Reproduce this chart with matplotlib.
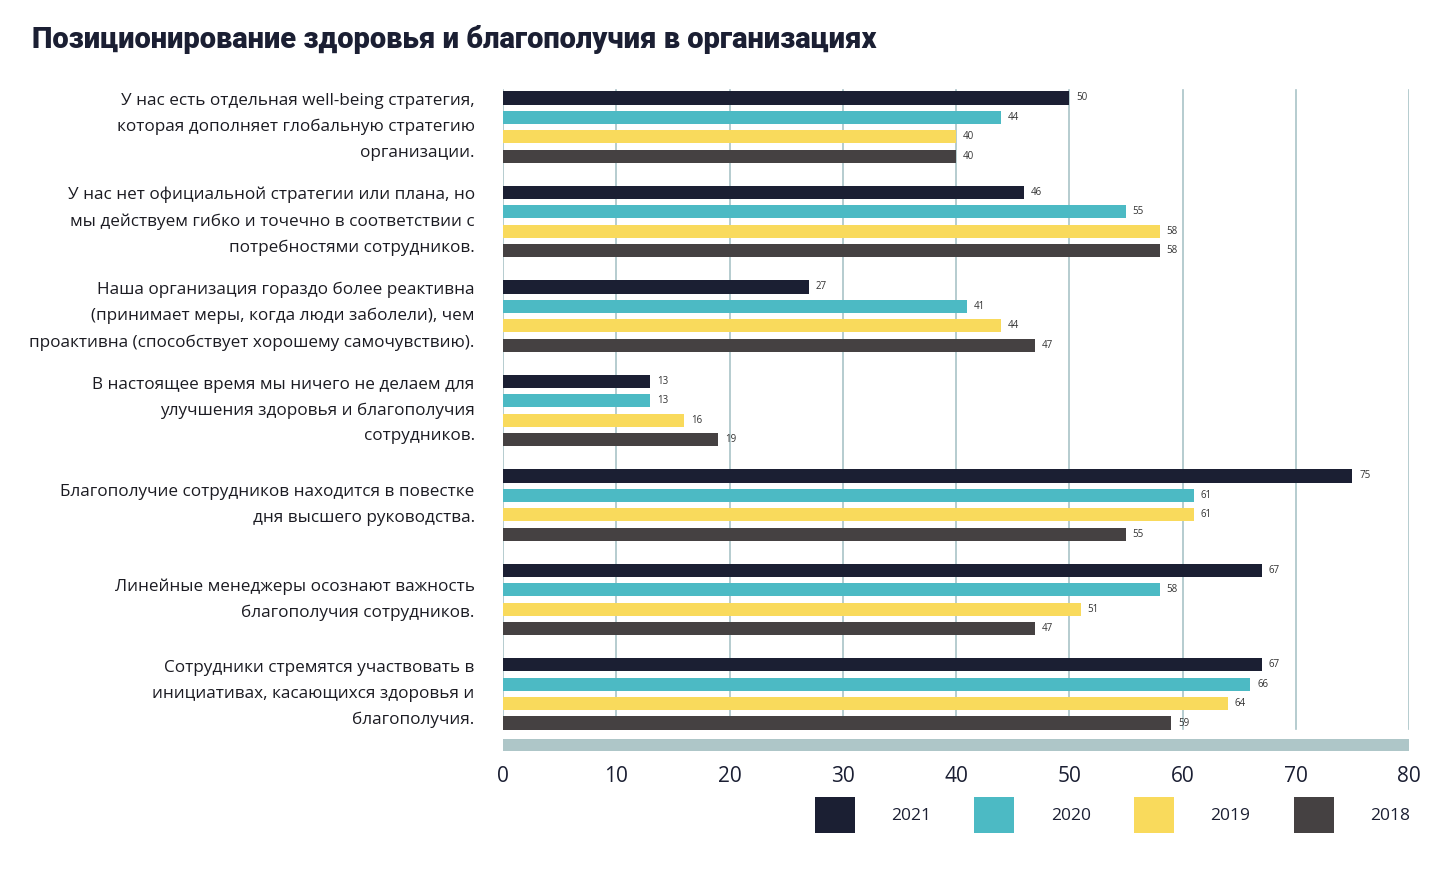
import numpy as np
import matplotlib
matplotlib.use("Agg")
import matplotlib.pyplot as plt
from matplotlib.patches import Patch

title = "Позиционирование здоровья и благополучия в организациях"
categories = [
    "У нас есть отдельная well-being стратегия,\nкоторая дополняет глобальную стратегию\nорганизации.",
    "У нас нет официальной стратегии или плана, но\nмы действуем гибко и точечно в соответствии с\nпотребностями сотрудников.",
    "Наша организация гораздо более реактивна\n(принимает меры, когда люди заболели), чем\nпроактивна (способствует хорошему самочувствию).",
    "В настоящее время мы ничего не делаем для\nулучшения здоровья и благополучия\nсотрудников.",
    "Благополучие сотрудников находится в повестке\nдня высшего руководства.",
    "Линейные менеджеры осознают важность\nблагополучия сотрудников.",
    "Сотрудники стремятся участвовать в\nинициативах, касающихся здоровья и\nблагополучия.",
]
years = ["2021", "2020", "2019", "2018"]
v2021 = [50, 46, 27, 13, 75, 67, 67]
v2020 = [44, 55, 41, 13, 61, 58, 66]
v2019 = [40, 58, 44, 16, 61, 51, 64]
v2018 = [40, 58, 47, 19, 55, 47, 59]
series = [v2021, v2020, v2019, v2018]
colors = ["#1b1f33", "#4cbac4", "#f9da5c", "#454142"]
xticks = [0, 10, 20, 30, 40, 50, 60, 70, 80]

plt.rcParams['font.family'] = ['Open Sans', 'DejaVu Sans']

W, H = 1441, 873
fig = plt.figure(figsize=(W / 100, H / 100), dpi=100)
x0, x1 = 503, 1409
ytop, ybot = 88, 753
ax = fig.add_axes([x0 / W, 1 - ybot / H, (x1 - x0) / W, (ybot - ytop) / H])

group_step = 4.87
n = len(categories)
unit = 19.4
ylim_top = (ytop - 98) / unit
ylim_bot = (ybot - 98) / unit
ax.set_ylim(ylim_bot, ylim_top)
ax.set_xlim(0, 80)

grid_end = (729 - 98) / unit
for t in xticks:
    ax.plot([t, t], [ylim_top + 0.1, grid_end], color="#a9c4c7", lw=1.2, zorder=1)

for j, (vals, c) in enumerate(zip(series, colors)):
    ys = np.arange(n) * group_step + j
    ax.barh(ys, vals, height=0.68, color=c, zorder=2)
    for y, v in zip(ys, vals):
        ax.text(v + 0.6, y, str(v), va="center", ha="left", fontsize=7,
                color="#333333", zorder=3)

band_y = (745 - 98) / unit
ax.barh([band_y], [80], height=0.62, color="#aec6c8", zorder=2)

centers = np.arange(n) * group_step + 1.5
for yc, lab in zip(centers, categories):
    ax.text(-2.5, yc, lab, ha="right", va="center", fontsize=12.3, color="#1b1b22",
            linespacing=1.8)

ax.set_yticks([])
ax.set_xticks(xticks)
ax.set_xticklabels([str(t) for t in xticks], fontsize=15, color="#1b1f33")
ax.tick_params(axis="x", length=0, pad=9)
for s in ax.spines.values():
    s.set_visible(False)

fig.text(32 / W, 1 - 40 / H, title, fontsize=21, fontweight="heavy",
         color="#1b1f33", ha="left", va="center",
         family=["Roboto", "DejaVu Sans"])

handles = [Patch(facecolor=c, edgecolor="none") for c in colors]
fig.legend(handles, years, loc="center left",
           bbox_to_anchor=(799 / W, 1 - 815 / H), ncol=4, frameon=False,
           fontsize=12.5, handlelength=2.3, handleheight=2.9,
           handletextpad=2.1, columnspacing=2.5, labelcolor="#1b1f33")

fig.savefig("out.png", dpi=100, facecolor="white")
